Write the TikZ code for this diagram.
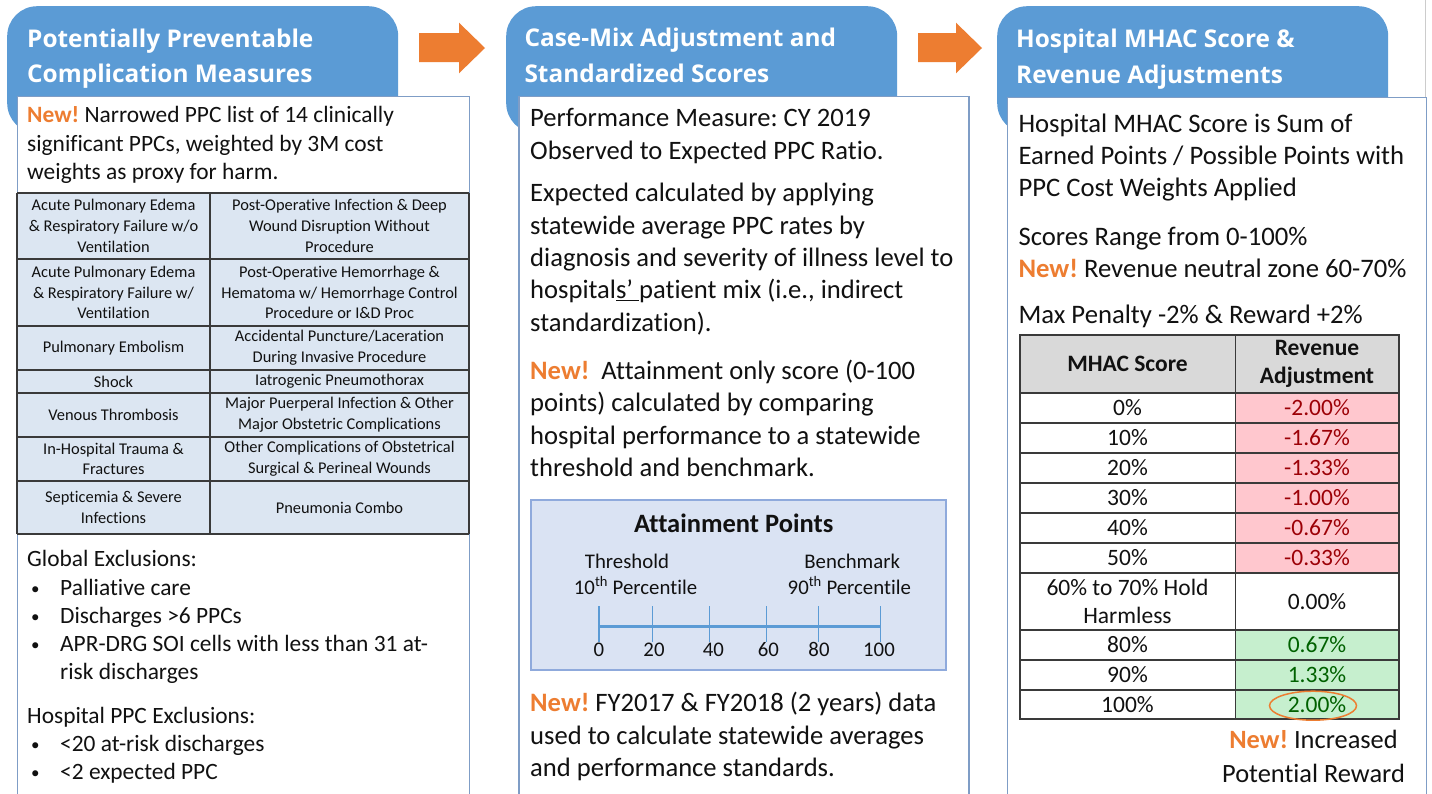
\documentclass[tikz,border=0pt]{standalone}
\usepackage{fontspec}
\setmainfont{Carlito}[Ligatures={NoCommon}]
\newfontfamily\hdrfont{Open Sans}[Ligatures={NoCommon}]
\frenchspacing
\definecolor{hdrblue}{HTML}{5B9BD5}
\definecolor{arrorange}{HTML}{ED7D31}
\definecolor{panelline}{HTML}{7F9DC6}
\definecolor{cellblue}{HTML}{DCE6F2}
\definecolor{gridgray}{HTML}{3A3A3A}
\definecolor{attfill}{HTML}{DAE3F3}
\definecolor{attline}{HTML}{8FAADC}
\definecolor{axisblue}{HTML}{5B9BD5}
\definecolor{pinkfill}{HTML}{FFC7CE}
\definecolor{redtext}{HTML}{9C0006}
\definecolor{greenfill}{HTML}{C6EFCE}
\definecolor{greentext}{HTML}{006100}
\definecolor{headgray}{HTML}{D9D9D9}
\definecolor{textblack}{HTML}{111111}
\newcommand\newmark{\textcolor{arrorange}{\bfseries New!}}
\newcommand\bul{\makebox[33pt][l]{\hspace{4pt}\raisebox{1pt}{\fontsize{17}{17}\selectfont•}}}
\begin{document}
\begin{tikzpicture}[x=1pt,y=-1pt,
  hdrbox/.style={fill=hdrblue, draw=none, rounded corners=30pt},
  hdrtext/.style={text=white, font=\hdrfont\bfseries\fontsize{24.4}{35.4}\selectfont\frenchspacing, align=left, anchor=north west, inner sep=0pt},
  panelbox/.style={fill=white, draw=panelline, line width=1.3pt},
  bodyA/.style={text=textblack, font=\fontsize{23.4}{28.2}\selectfont\frenchspacing, align=left, anchor=north west, inner sep=0pt},
  bodyB/.style={text=textblack, font=\fontsize{26.6}{32.3}\selectfont\frenchspacing, align=left, anchor=north west, inner sep=0pt},
  bodyC/.style={text=textblack, font=\fontsize{26.7}{32}\selectfont\frenchspacing, align=left, anchor=north west, inner sep=0pt},
  cellA/.style={text=textblack, font=\fontsize{16.4}{20.7}\selectfont, align=center, inner sep=0pt},
  cellB/.style={text=textblack, font=\fontsize{23.5}{28.3}\selectfont, align=center, inner sep=0pt},
  cellhead/.style={cellB, font=\fontsize{23.5}{28.3}\selectfont\bfseries},
  attlabel/.style={text=textblack, font=\fontsize{20.8}{25.5}\selectfont, align=center, inner sep=0pt},
  blockarrow/.style={fill=arrorange, draw=none},
  gridA/.style={draw=gridgray, line width=2pt},
  gridB/.style={draw=gridgray, line width=1.5pt},
]
\useasboundingbox (0,0) rectangle (1432,793);
\clip (0,0) rectangle (1432,793);
\fill[white] (0,0) rectangle (1432,793);

% ---------- headers ----------
\node[hdrbox, anchor=north west, minimum width=391pt, minimum height=127pt, inner sep=0pt] (h1) at (7,6) {};
\node[hdrbox, anchor=north west, minimum width=391pt, minimum height=127pt, inner sep=0pt] (h2) at (506,6) {};
\node[hdrbox, anchor=north west, minimum width=391pt, minimum height=127pt, inner sep=0pt] (h3) at (997,6) {};

\node[hdrtext] (h1t) at (27,22.5) {\strut Potentially Preventable\\Complication Measures};
\node[hdrtext] (h2t) at (524.3,21.9) {\strut Case-Mix Adjustment and\\Standardized Scores};
\node[hdrtext] (h3t) at (1016,22.9) {\strut Hospital MHAC Score \&\\Revenue Adjustments};

% ---------- block arrows ----------
\fill[blockarrow] (419,33) -- (459,33) -- (459,22.7) -- (485,48) -- (459,73.3) -- (459,62) -- (419,62) -- cycle;
\fill[blockarrow] (918,33) -- (956,33) -- (956,22.7) -- (982,48) -- (956,73.3) -- (956,62) -- (918,62) -- cycle;

% ---------- panels ----------
\draw[gray!40, line width=1pt] (1425.7,0) -- (1425.7,97);
\node[panelbox, anchor=north west, minimum width=452pt, minimum height=720pt, inner sep=0pt] (p1) at (17,96) {};
\node[panelbox, anchor=north west, minimum width=450pt, minimum height=720pt, inner sep=0pt] (p2) at (518.3,96) {};
\node[panelbox, anchor=north west, minimum width=418.7pt, minimum height=720pt, inner sep=0pt] (p3) at (1007,97) {};

% ---------- panel 1 ----------
\node[bodyA] (p1a) at (27,102.9) {\strut\newmark{} Narrowed PPC list of 14 clinically\\significant PPCs, weighted by 3M cost\\weights as proxy for harm.};

\fill[cellblue] (17,193) rectangle (469,534);
\foreach \yy in {193,259,326,370,393,437,481,534} {\draw[gridA] (17,\yy) -- (469,\yy);}
\draw[gridA] (17,193) -- (17,534);
\draw[gridA] (210,193) -- (210,534);
\draw[gridA] (469,193) -- (469,534);

\node[cellA] (c11) at (113.5,226) {Acute Pulmonary Edema\\\& Respiratory Failure w/o\\Ventilation};
\node[cellA] (c12) at (339.5,226) {Post-Operative Infection \& Deep\\Wound Disruption Without\\Procedure};
\node[cellA] (c21) at (113.5,292.5) {Acute Pulmonary Edema\\\& Respiratory Failure w/\\Ventilation};
\node[cellA] (c22) at (339.5,292.5) {Post-Operative Hemorrhage \&\\Hematoma w/ Hemorrhage Control\\Procedure or I\&D Proc};
\node[cellA] (c31) at (113.5,348) {Pulmonary Embolism};
\node[cellA] (c32) at (339.5,348) {Accidental Puncture/Laceration\\During Invasive Procedure};
\node[cellA] (c41) at (113.5,381.5) {Shock};
\node[cellA] (c42) at (339.5,381.5) {Iatrogenic Pneumothorax};
\node[cellA] (c51) at (113.5,415) {Venous Thrombosis};
\node[cellA] (c52) at (339.5,415) {Major Puerperal Infection \& Other\\Major Obstetric Complications};
\node[cellA] (c61) at (113.5,459) {In-Hospital Trauma \&\\Fractures};
\node[cellA] (c62) at (339.5,459) {Other Complications of Obstetrical\\Surgical \& Perineal Wounds};
\node[cellA] (c71) at (113.5,507.5) {Septicemia \& Severe\\Infections};
\node[cellA] (c72) at (339.5,507.5) {Pneumonia Combo};

\node[bodyA] (p1b) at (27,547) {\strut Global Exclusions:\\
\bul Palliative care\\
\bul Discharges >6 PPCs\\
\bul APR-DRG SOI cells with less than 31 at-\\
\hspace*{33pt}risk discharges};
\node[bodyA] (p1c) at (27,703.6) {\strut Hospital PPC Exclusions:\\
\bul <20 at-risk discharges\\
\bul <2 expected PPC};

% ---------- panel 2 ----------
\node[bodyB] (p2a) at (530,104.1) {\strut Performance Measure: CY 2019\\Observed to Expected PPC Ratio.};
\node[bodyB] (p2b) at (530,179.1) {\strut Expected calculated by applying\\statewide average PPC rates by\\diagnosis and severity of illness level to\\hospital\underline{s’\ }patient mix (i.e., indirect\\standardization).};
\node[bodyB] (p2c) at (530,356.7) {\strut\newmark\ \ Attainment only score (0-100\\points) calculated by comparing\\hospital performance to a statewide\\threshold and benchmark.};

\node[fill=attfill, draw=attline, line width=1.5pt, anchor=north west, minimum width=415pt, minimum height=170pt, inner sep=0pt] (att) at (530,499.3) {};
\node[text=textblack, font=\fontsize{26.5}{30}\selectfont\bfseries, anchor=base, inner sep=0pt] (attT) at (733.7,532.3) {Attainment Points};
\node[attlabel, anchor=base] (th1) at (627,568.3) {Threshold};
\node[attlabel, anchor=base] (th2) at (635.5,594) {10\textsuperscript{th} Percentile};
\node[attlabel, anchor=base] (bm1) at (852.2,568.3) {Benchmark};
\node[attlabel, anchor=base] (bm2) at (849.3,594) {90\textsuperscript{th} Percentile};
\draw[axisblue, line width=3pt] (599,626.7) -- (880,626.7);
\foreach \xx in {599, 652.3, 709.7, 766.3, 818.3, 880.3} {
  \draw[axisblue, line width=1.3pt] (\xx,606) -- (\xx,641.5);
}
\foreach \xx/\lab/\nm in {599/0/a0, 654/20/a20, 713.3/40/a40, 768.3/60/a60, 819/80/a80, 879/100/a100} {
  \node[attlabel, anchor=base] (\nm) at (\xx,656.7) {\lab};
}

\node[bodyB] (p2d) at (530,689.1) {\strut\newmark{} FY2017 \& FY2018 (2 years) data\\used to calculate statewide averages\\and performance standards.};

% ---------- panel 3 ----------
\node[bodyC] (p3a) at (1018.3,110.3) {\strut Hospital MHAC Score is Sum of\\Earned Points / Possible Points with\\PPC Cost Weights Applied};
\node[bodyC] (p3b) at (1018.3,222.6) {\strut Scores Range from 0-100\%\\\newmark{} Revenue neutral zone 60-70\%};
\node[bodyC] (p3c) at (1018.3,300.9) {\strut Max Penalty -2\% \& Reward +2\%};

\fill[white] (1020,335) rectangle (1399,719);
\fill[headgray] (1020,335) rectangle (1399,393);
\fill[pinkfill] (1235.3,393) rectangle (1399,573);
\fill[greenfill] (1235.3,630) rectangle (1399,719);
\foreach \yy in {393,423,453,483,513,543,573,630,660,690} {\draw[gridB] (1020,\yy) -- (1399,\yy);}
\draw[gridB] (1235.3,335) -- (1235.3,719);
\draw[gridA] (1020,335) rectangle (1399,719);

\node[cellhead] (th) at (1127.5,364) {MHAC Score};
\node[cellhead] (rh) at (1317,364) {Revenue\\Adjustment};
\foreach \yc/\sc/\rv/\nm in {408/0\%/-2.00\%/r0, 438/10\%/-1.67\%/r10, 468/20\%/-1.33\%/r20, 498/30\%/-1.00\%/r30, 528/40\%/-0.67\%/r40, 558/50\%/-0.33\%/r50} {
  \node[cellB] (s\nm) at (1127.5,\yc) {\sc};
  \node[cellB, text=redtext] (v\nm) at (1317,\yc) {\rv};
}
\node[cellB] (shold) at (1127.5,601.5) {60\% to 70\% Hold\\Harmless};
\node[cellB] (vhold) at (1317,601.5) {0.00\%};
\foreach \yc/\sc/\rv/\nm in {645/80\%/0.67\%/r80, 675/90\%/1.33\%/r90, 704.5/100\%/2.00\%/r100} {
  \node[cellB] (s\nm) at (1127.5,\yc) {\sc};
  \node[cellB, text=greentext] (v\nm) at (1317,\yc) {\rv};
}
\draw[arrorange, line width=1.5pt] (1313,705.7) ellipse [x radius=43.5pt, y radius=14.5pt];

\node[text=textblack, font=\fontsize{26.4}{34}\selectfont, align=center, anchor=north, inner sep=0pt] (p3d) at (1313.5,724.5) {\strut\newmark{} Increased\\Potential Reward};
\end{tikzpicture}
\end{document}
